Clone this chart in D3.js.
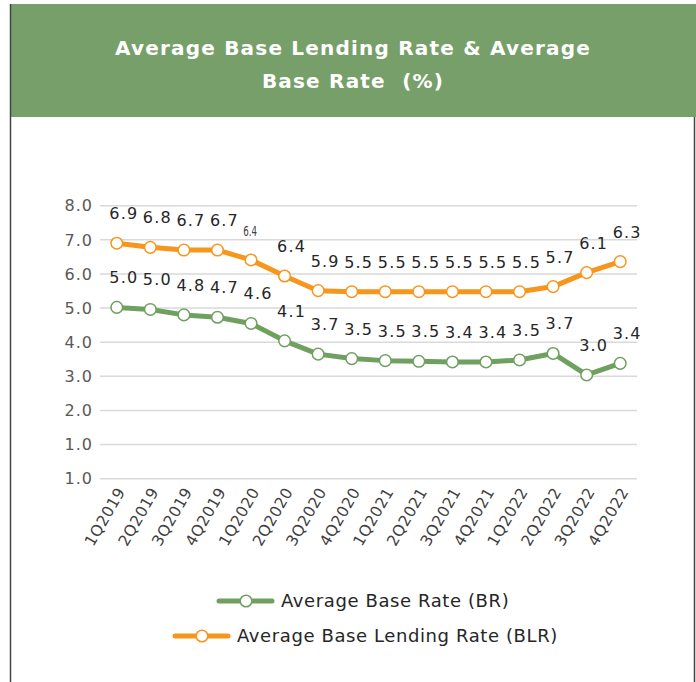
<!DOCTYPE html>
<html>
<head>
<meta charset="utf-8">
<script src="https://cdn.jsdelivr.net/npm/d3@7"></script>
<style>
  body { margin: 0; background: #fff; }
  svg { display: block; }
</style>
</head>
<body>
<div id="chart"></div>
<script>
const quarters = ['1Q2019', '2Q2019', '3Q2019', '4Q2019', '1Q2020', '2Q2020', '3Q2020', '4Q2020',
  '1Q2021', '2Q2021', '3Q2021', '4Q2021', '1Q2022', '2Q2022', '3Q2022', '4Q2022'];

// Average Base Lending Rate (BLR)
const blrValues = [6.90, 6.78, 6.70, 6.70, 6.41, 5.94, 5.51, 5.48, 5.48, 5.48, 5.48, 5.48, 5.48, 5.63, 6.04, 6.36];
const blrLabels = ['6.9', '6.8', '6.7', '6.7', '6.4', '6.4', '5.9', '5.5', '5.5', '5.5', '5.5', '5.5', '5.5', '5.7', '6.1', '6.3'];

// Average Base Rate (BR)
const brValues = [5.02, 4.96, 4.80, 4.73, 4.55, 4.04, 3.65, 3.52, 3.46, 3.44, 3.42, 3.42, 3.48, 3.67, 3.04, 3.38];
const brLabels = ['5.0', '5.0', '4.8', '4.7', '4.6', '4.1', '3.7', '3.5', '3.5', '3.5', '3.4', '3.4', '3.5', '3.7', '3.0', '3.4'];

const yTicks = [0, 1, 2, 3, 4, 5, 6, 7, 8];
const yTickLabels = ['1.0', '1.0', '2.0', '3.0', '4.0', '5.0', '6.0', '7.0', '8.0'];

const titleLines = ['Average Base Lending Rate & Average', 'Base Rate  (%)'];

const series = [
  { name: 'Average Base Rate (BR)', values: brValues, labels: brLabels, color: '#70a060' },
  { name: 'Average Base Lending Rate (BLR)', values: blrValues, labels: blrLabels, color: '#f7961c' }
];

const W = 696, H = 682;
const svg = d3.select('#chart').append('svg')
  .attr('width', W)
  .attr('height', H);

// header band + frame
svg.append('rect')
  .attr('x', 11).attr('y', 4)
  .attr('width', W - 11).attr('height', 113)
  .attr('fill', '#779f69');

svg.append('line')
  .attr('x1', 10.5).attr('x2', 10.5).attr('y1', 4).attr('y2', H)
  .attr('stroke', '#444').attr('stroke-width', 1.5);
svg.append('line')
  .attr('x1', 694.5).attr('x2', 694.5).attr('y1', 117).attr('y2', H)
  .attr('stroke', '#444').attr('stroke-width', 1.5);

svg.append('text')
  .attr('x', 353)
  .attr('text-anchor', 'middle')
  .style('font-family', 'DejaVu Sans')
  .style('font-weight', 'bold')
  .style('font-size', '20px')
  .style('letter-spacing', '1.2px')
  .style('white-space', 'pre')
  .attr('fill', '#fff')
  .selectAll('tspan')
  .data(titleLines)
  .enter().append('tspan')
  .attr('x', 353)
  .attr('y', (d, i) => 55 + i * 33)
  .text(d => d);

const x = d3.scalePoint()
  .domain(quarters)
  .range([100, 637])
  .padding(0.5);

const y = d3.scaleLinear()
  .domain([0, 8])
  .range([478.7, 205.7]);

// gridlines
svg.append('g')
  .selectAll('line')
  .data(yTicks)
  .enter().append('line')
  .attr('x1', 100).attr('x2', 637)
  .attr('y1', d => y(d)).attr('y2', d => y(d))
  .attr('stroke', '#d9d9d9')
  .attr('stroke-width', 1.5);

// Y-axis labels
svg.append('g')
  .selectAll('text')
  .data(yTicks)
  .enter().append('text')
  .attr('x', 93)
  .attr('y', d => y(d))
  .attr('dy', '0.36em')
  .attr('text-anchor', 'end')
  .style('font-family', 'DejaVu Sans')
  .style('font-size', '16px')
  .style('letter-spacing', '1px')
  .attr('fill', '#595959')
  .text((d, i) => yTickLabels[i]);

// X-axis labels
svg.append('g')
  .selectAll('text')
  .data(quarters)
  .enter().append('text')
  .attr('transform', d => `translate(${x(d) + 4},${y(0) + 10}) rotate(-60)`)
  .attr('dy', '0.36em')
  .attr('text-anchor', 'end')
  .style('font-family', 'DejaVu Sans')
  .style('font-size', '15.5px')
  .style('letter-spacing', '0.5px')
  .attr('fill', '#404040')
  .text(d => d);

const line = d3.line()
  .x((d, i) => x(quarters[i]))
  .y(d => y(d));

// the 1Q2020 BLR label is drawn in a small condensed face in the original
const isOddLabel = (s, i) => s === series[1] && i === 4;

series.forEach(s => {
  const g = svg.append('g');

  g.append('path')
    .datum(s.values)
    .attr('d', line)
    .attr('fill', 'none')
    .attr('stroke', s.color)
    .attr('stroke-width', 5)
    .attr('stroke-linejoin', 'round');

  g.selectAll('circle')
    .data(s.values)
    .enter().append('circle')
    .attr('cx', (d, i) => x(quarters[i]))
    .attr('cy', d => y(d))
    .attr('r', 5.8)
    .attr('fill', '#fff')
    .attr('stroke', s.color)
    .attr('stroke-width', 1.5);

  g.selectAll('text')
    .data(s.values)
    .enter().append('text')
    .attr('transform', (d, i) => isOddLabel(s, i)
      ? `translate(${x(quarters[i]) - 1},${y(d) - 24}) scale(0.62,1)`
      : `translate(${x(quarters[i]) + 7},${y(d) - 24})`)
    .attr('text-anchor', 'middle')
    .style('font-family', 'DejaVu Sans')
    .style('font-size', (d, i) => isOddLabel(s, i) ? '14px' : '16px')
    .style('letter-spacing', (d, i) => isOddLabel(s, i) ? '0px' : '1.2px')
    .attr('fill', (d, i) => isOddLabel(s, i) ? '#404040' : '#262626')
    .text((d, i) => s.labels[i]);
});

// legend
const legend = [
  { s: series[0], x0: 219, y0: 601, tx: 281 },
  { s: series[1], x0: 175, y0: 636, tx: 237 }
];

legend.forEach(l => {
  const g = svg.append('g');
  g.append('line')
    .attr('x1', l.x0).attr('x2', l.x0 + 53)
    .attr('y1', l.y0).attr('y2', l.y0)
    .attr('stroke', l.s.color)
    .attr('stroke-width', 5)
    .attr('stroke-linecap', 'round');
  g.append('circle')
    .attr('cx', l.x0 + 27).attr('cy', l.y0)
    .attr('r', 5.8)
    .attr('fill', '#fff')
    .attr('stroke', l.s.color)
    .attr('stroke-width', 1.5);
  g.append('text')
    .attr('x', l.tx).attr('y', l.y0)
    .attr('dy', '0.36em')
    .style('font-family', 'DejaVu Sans')
    .style('font-size', '18px')
    .style('letter-spacing', '0.6px')
    .attr('fill', '#262626')
    .text(l.s.name);
});
</script>
</body>
</html>
